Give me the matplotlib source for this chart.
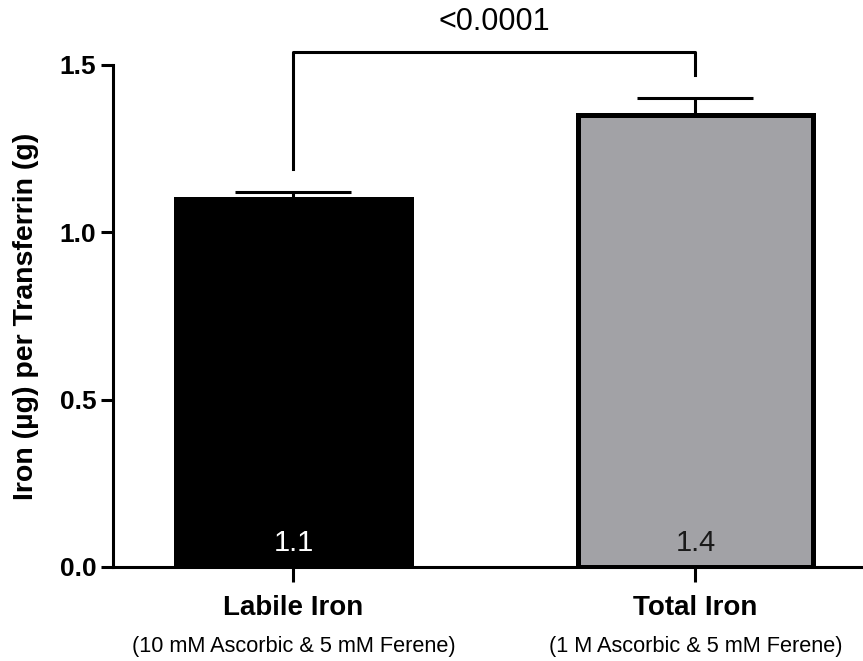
import matplotlib
matplotlib.use("Agg")
import matplotlib.pyplot as plt

plt.rcParams['font.family'] = ['Liberation Sans', 'DejaVu Sans']

# iron content per gram transferrin, mean and SD
groups = ["Labile Iron", "Total Iron"]
conditions = ["(10 mM Ascorbic & 5 mM Ferene)", "(1 M Ascorbic & 5 mM Ferene)"]
means = [1.10, 1.35]
sds = [0.02, 0.05]
fills = ["#000000", "#a2a2a6"]
label_colors = ["white", "#1a1a1a"]

# significance bracket
p_text = "<0.0001"
bracket_top = 1.54
bracket_feet = [1.19, 1.47]

fig = plt.figure(figsize=(8.63, 6.61), dpi=100)
ax = fig.add_axes([113 / 863, 1 - 567 / 661, 750 / 863, 502 / 661])

x = list(range(len(groups)))
ax.bar(x, means, width=0.585, color=fills, edgecolor="black", linewidth=3.6, zorder=2)

# upper error bars only
ax.errorbar(x, means, yerr=[[0, 0], sds], fmt="none", ecolor="black",
            elinewidth=2.2, capsize=42, capthick=2.2, zorder=1)

for xi, m, c in zip(x, means, label_colors):
    ax.annotate(f"{m:.1f}", xy=(xi, 0), xytext=(0, 17), textcoords="offset points",
                ha="center", va="center", color=c, fontsize=21, zorder=3)

ax.plot([x[0], x[0], x[1], x[1]],
        [bracket_feet[0], bracket_top, bracket_top, bracket_feet[1]],
        color="black", lw=2.2, clip_on=False)
ax.annotate(p_text, xy=((x[0] + x[1]) / 2, bracket_top), xytext=(0, 21),
            textcoords="offset points", ha="center", va="center",
            fontsize=22, annotation_clip=False)

ax.set_xlim(-0.449, 1.417)
ax.set_ylim(0, 1.5)
ax.set_yticks([0, 0.5, 1.0, 1.5])
ax.set_yticklabels(["0.0", "0.5", "1.0", "1.5"], fontweight="bold", fontsize=19)
ax.set_xticks(x)
ax.set_xticklabels(groups, fontweight="bold", fontsize=20)
ax.set_ylabel("Iron (µg) per Transferrin (g)", fontweight="bold", fontsize=20.5, labelpad=15)

for xi, cond in zip(x, conditions):
    ax.annotate(cond, xy=(xi, 0), xycoords=("data", "axes fraction"),
                xytext=(0, -57), textcoords="offset points",
                ha="center", va="center", fontsize=15.7)

for side in ("top", "right"):
    ax.spines[side].set_visible(False)
for side in ("left", "bottom"):
    ax.spines[side].set_linewidth(2.2)
ax.tick_params(axis="y", length=9, width=2.2, pad=3)
ax.tick_params(axis="x", length=11, width=2.2, pad=9)

fig.savefig("out.png", dpi=100)
